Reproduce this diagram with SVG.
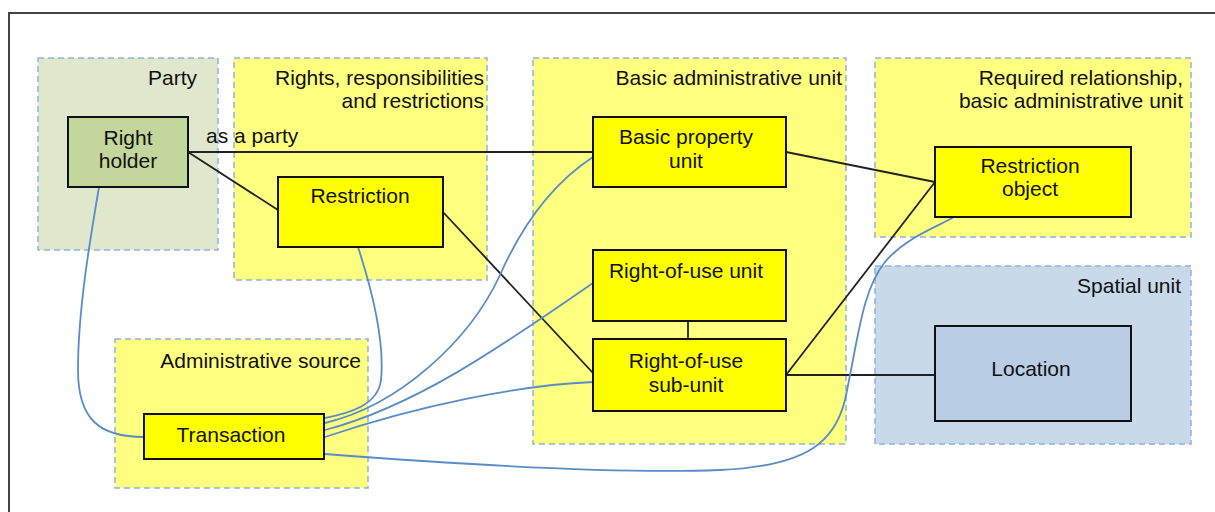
<svg xmlns="http://www.w3.org/2000/svg" width="1215" height="512" viewBox="0 0 1215 512">
<style>
text{font-family:"Liberation Sans",Arial,sans-serif;font-size:21px;fill:#111}
.grp{stroke:#8db3e2;stroke-width:1.5;stroke-dasharray:6 4}
.y{fill:#ffff80}
.node{stroke:#111;stroke-width:2}
.ny{fill:#ffff00}
.blk{fill:none;stroke:#222;stroke-width:1.8}
.blu{fill:none;stroke:#5a8cc6;stroke-width:1.8}
.r{text-anchor:end}
.m{text-anchor:middle}
</style>
<rect x="0" y="0" width="1215" height="512" fill="#fff"/>
<rect x="9" y="13" width="1230" height="520" fill="none" stroke="#444" stroke-width="2"/>
<g id="grp-party"><rect class="grp" x="38" y="58" width="180" height="192" fill="#dfe8cc"/><text class="r" x="197" y="85">Party</text></g>
<g id="grp-rrr"><rect class="grp y" x="234" y="58" width="253" height="222"/><text class="r" x="484" y="85">Rights, responsibilities</text><text class="r" x="484" y="108">and restrictions</text></g>
<g id="grp-bau"><rect class="grp y" x="533" y="58" width="313" height="386"/><text class="r" x="842" y="85">Basic administrative unit</text></g>
<g id="grp-req"><rect class="grp y" x="875" y="58" width="316" height="179"/><text class="r" x="1183" y="85">Required relationship,</text><text class="r" x="1183" y="108">basic administrative unit</text></g>
<g id="grp-spatial"><rect class="grp" x="875" y="266" width="316" height="178" fill="#c8d9ea"/><text class="r" x="1181" y="293">Spatial unit</text></g>
<g id="grp-source"><rect class="grp y" x="115" y="339" width="253" height="149"/><text class="r" x="361" y="368">Administrative source</text></g>
<g id="connectors">
<path class="blk" d="M188,152 H593"/>
<path class="blk" d="M188,152 L278,210"/>
<path class="blk" d="M443,212 L593,373"/>
<path class="blk" d="M786,152 L935,182"/>
<path class="blk" d="M688,321 V339"/>
<path class="blk" d="M786,375 L935,182"/>
<path class="blk" d="M786,375 H935"/>
<path class="blu" d="M99,187 C90,240 78,310 78,370 C78,420 100,437 144,437"/>
<path class="blu" d="M358,247 C372,290 385,340 381,380 C378,405 350,413 325,418"/>
<path class="blu" d="M593,157 C550,185 520,230 500,275 C470,340 400,405 325,423"/>
<path class="blu" d="M593,283 C510,340 420,405 325,430"/>
<path class="blu" d="M593,382 C520,385 420,405 325,437"/>
<path class="blu" d="M325,454 C480,466 620,474 720,470 C810,466 835,440 845,400 C858,340 862,290 885,262 C905,238 935,228 954,217"/>
<text x="206" y="143">as a party</text>
</g>
<g id="n-rightholder"><rect class="node" x="68" y="117" width="120" height="70" fill="#c3d69b"/><text class="m" x="128" y="145">Right</text><text class="m" x="128" y="168">holder</text></g>
<g id="n-restriction"><rect class="node ny" x="278" y="177" width="165" height="70"/><text class="m" x="360" y="203">Restriction</text></g>
<g id="n-bpu"><rect class="node ny" x="593" y="117" width="193" height="70"/><text class="m" x="686" y="144">Basic property</text><text class="m" x="686" y="168">unit</text></g>
<g id="n-rou"><rect class="node ny" x="593" y="250" width="193" height="71"/><text class="m" x="686" y="278">Right-of-use unit</text></g>
<g id="n-rousub"><rect class="node ny" x="593" y="339" width="193" height="72"/><text class="m" x="686" y="368">Right-of-use</text><text class="m" x="686" y="392">sub-unit</text></g>
<g id="n-resobj"><rect class="node ny" x="935" y="147" width="196" height="70"/><text class="m" x="1030" y="173">Restriction</text><text class="m" x="1030" y="196">object</text></g>
<g id="n-location"><rect class="node" x="935" y="326" width="196" height="95" fill="#b9cde5"/><text class="m" x="1031" y="376">Location</text></g>
<g id="n-transaction"><rect class="node ny" x="144" y="414" width="180" height="45"/><text class="m" x="231" y="442">Transaction</text></g>
</svg>
